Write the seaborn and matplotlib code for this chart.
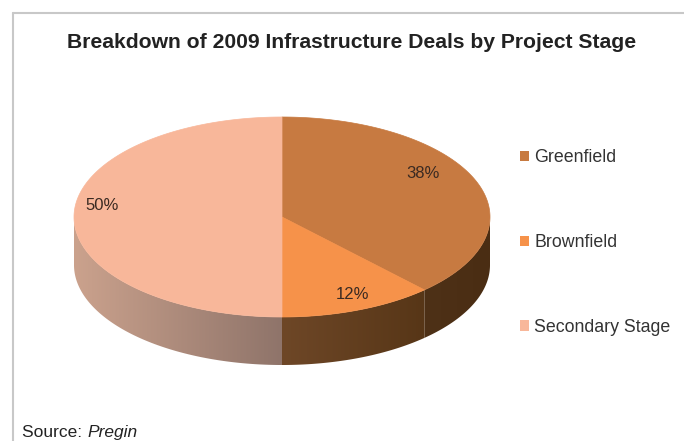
import numpy as np
import matplotlib
matplotlib.use("Agg")
import matplotlib.pyplot as plt
import seaborn as sns
from matplotlib.patches import Polygon, Patch
from matplotlib.colors import LinearSegmentedColormap

# data
stages = ["Greenfield", "Brownfield", "Secondary Stage"]
shares = [38, 12, 50]
pct_labels = ["38%", "12%", "50%"]
top_colors = ["#C77A41", "#F6924A", "#F8B79A"]
side_colors = [("#4E3117", "#4A2D13"), ("#6E4727", "#573617"), ("#8F746A", "#CBA28D")]

sns.set_theme(style="white")
plt.rcParams["font.family"] = ["Liberation Sans", "DejaVu Sans"]

fig = plt.figure(figsize=(6.84, 4.41), dpi=100)
ax = fig.add_axes([0, 0, 1, 1])
ax.axis("off")

# pie geometry (pixels)
cx, cy, a, b, depth = 282, 217, 208, 100, 48


def edge(theta, dy=0):
    return np.column_stack([cx + a * np.cos(theta), cy - b * np.sin(theta) + dy])


fracs = np.array(shares) / sum(shares)
ends = np.pi / 2 - 2 * np.pi * np.cumsum(fracs)
starts = np.concatenate([[np.pi / 2], ends[:-1]])

# side walls, only the front half shows
for t0, t1, (c_in, c_out) in zip(starts, ends, side_colors):
    lo, hi = t1, t0
    lo_c, hi_c = max(lo, -np.pi), min(hi, 0)
    if hi_c <= lo_c:
        lo_c, hi_c = max(lo + 2 * np.pi, -np.pi), min(hi + 2 * np.pi, 0)
        if hi_c <= lo_c:
            continue
    th = np.linspace(lo_c, hi_c, 200)
    pts = np.vstack([edge(th), edge(th[::-1], depth)])
    poly = Polygon(pts, closed=True, facecolor="none", edgecolor="none")
    ax.add_patch(poly)
    x0, x1 = pts[:, 0].min(), pts[:, 0].max()
    cmap = LinearSegmentedColormap.from_list("s", [c_in, c_out])
    grad = np.linspace(0, 1, 256)[None, :]
    if x0 < cx - 1:
        grad = grad[:, ::-1]
    im = ax.imshow(grad, cmap=cmap, extent=(x0, x1, pts[:, 1].max(), pts[:, 1].min()),
                   aspect="auto", interpolation="bilinear", zorder=1)
    im.set_clip_path(poly)

# top face
for t0, t1, col in zip(starts, ends, top_colors):
    th = np.linspace(t0, t1, 200)
    pts = np.vstack([[cx, cy], edge(th)])
    ax.add_patch(Polygon(pts, closed=True, facecolor=col, edgecolor=col, lw=0.5, zorder=2))

# percentage labels
nudges = [(-23, -12), (5, -2), (-3, -12)]
for t0, t1, lab, (nx, ny) in zip(starts, ends, pct_labels, nudges):
    mid = (t0 + t1) / 2
    x = cx + 0.85 * a * np.cos(mid) + nx
    y = cy - 0.85 * b * np.sin(mid) + ny
    ax.text(x, y, lab, ha="center", va="center", fontsize=12, color="#3A2A22", zorder=3)

ax.set_xlim(0, 684)
ax.set_ylim(441, 0)

# frame lines
ax.plot([13, 684], [12.5, 12.5], color="#C8C8C8", lw=1.5, zorder=0)
ax.plot([13, 13], [12.5, 441], color="#C8C8C8", lw=1.5, zorder=0)

ax.text(352, 42, "Breakdown of 2009 Infrastructure Deals by Project Stage", ha="center",
        va="center", fontsize=15.2, fontweight="bold", color="#222222")

handles = [Patch(facecolor=c, edgecolor="none") for c in top_colors]
leg = fig.legend(handles, stages, loc="upper left", bbox_to_anchor=(520 / 684, 1 - 149 / 441),
                 frameon=False, fontsize=12.8, handlelength=0.5, handleheight=0.5,
                 handletextpad=0.3, labelspacing=3.82, borderpad=0, borderaxespad=0)
for t in leg.get_texts():
    t.set_color("#333333")

# source line: plain + italic on one baseline
src = ax.text(22, 437, "Source: ", ha="left", va="baseline", fontsize=12.5, color="#222222")
fig.canvas.draw()
bb = src.get_window_extent().transformed(ax.transData.inverted())
ax.text(bb.x1, 437, "Pregin", ha="left", va="baseline", fontsize=12.5,
        style="italic", color="#222222")

fig.savefig("out.png", dpi=100)
